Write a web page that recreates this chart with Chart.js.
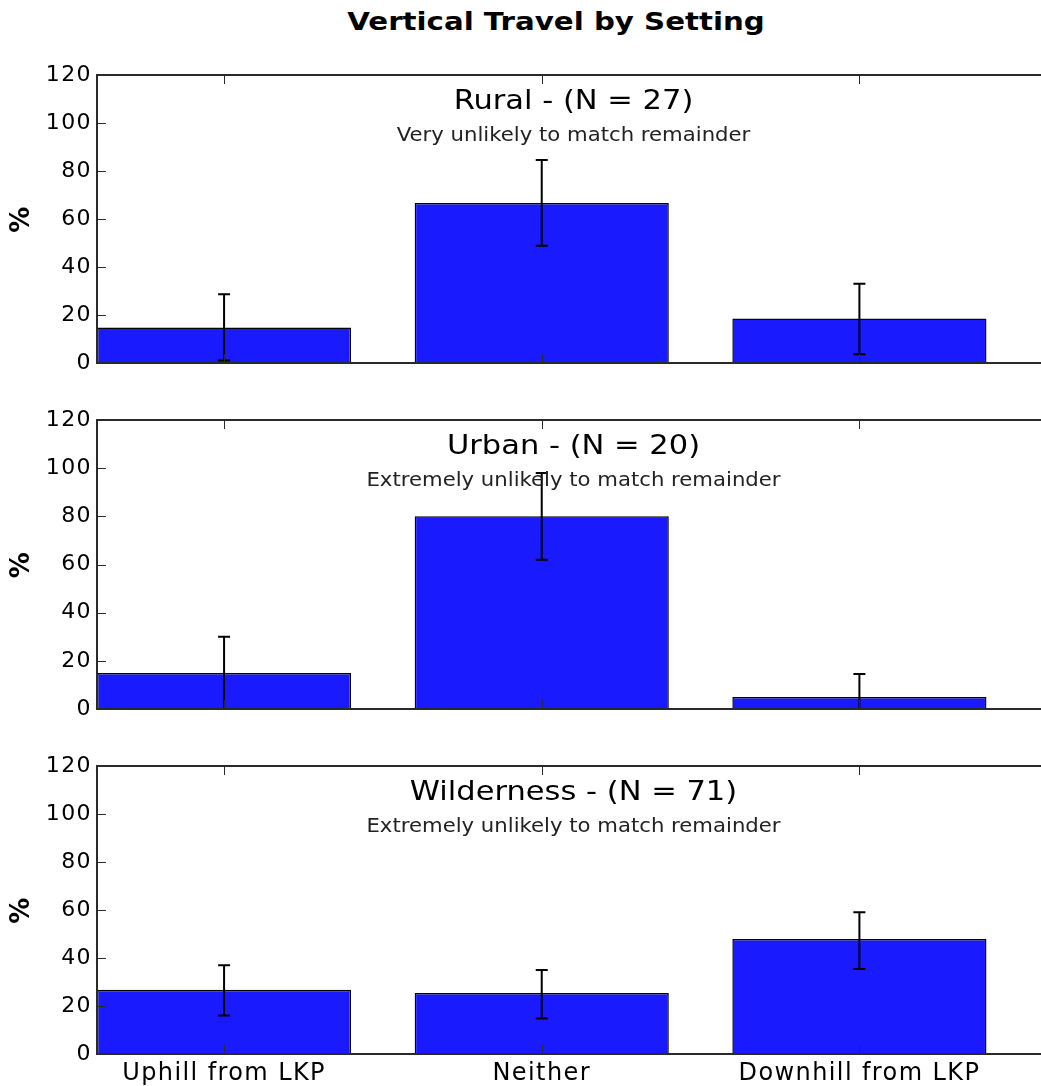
<!DOCTYPE html>
<html>
<head>
<meta charset="utf-8">
<title>Vertical Travel by Setting</title>
<script src="https://cdn.jsdelivr.net/npm/chart.js@4.4.1/dist/chart.umd.min.js"></script>
<style>
  html, body { margin: 0; padding: 0; background: #fff; overflow: hidden; width: 1041px; height: 1086px; }
  #title { position: absolute; left: 0; top: 7px; width: 1112px; text-align: center;
           font: bold 25px "DejaVu Sans"; line-height: 30px; color: #000;
           transform: scaleX(1.17); transform-origin: 556px 50%; }
  .panel { position: absolute; left: 0; }
</style>
</head>
<body>
<div id="title">Vertical Travel by Setting</div>
<canvas id="panel0" class="panel" width="1070" height="338" style="top:50px"></canvas>
<canvas id="panel1" class="panel" width="1070" height="339" style="top:395px"></canvas>
<canvas id="panel2" class="panel" width="1070" height="348" style="top:741px"></canvas>
<script>
// Direction of travel relative to the last known point (LKP)
const categories = ['Uphill from LKP', 'Neither', 'Downhill from LKP'];
const settings = ['Rural', 'Urban', 'Wilderness'];
const sampleSizes = [27, 20, 71];
const verdicts = [
  'Very unlikely to match remainder',
  'Extremely unlikely to match remainder',
  'Extremely unlikely to match remainder'
];

// Percent of cases per direction, with lower / upper error limits
const ruralPct = [14.8, 66.7, 18.5];
const ruralLow = [1.0, 48.9, 3.6];
const ruralHigh = [28.6, 84.6, 33.0];

const urbanPct = [15.0, 80.0, 5.0];
const urbanLow = [0.0, 62.0, 0.0];
const urbanHigh = [30.0, 98.0, 14.5];

const wildernessPct = [26.8, 25.4, 47.9];
const wildernessLow = [16.0, 14.8, 35.4];
const wildernessHigh = [37.0, 35.0, 59.1];

const yTicks = [0, 20, 40, 60, 80, 100, 120];

const FONT = '"DejaVu Sans", "Bitstream Vera Sans", sans-serif';
const BAR_BLUE = '#1a1aff';
const SPINE = '#2a2a2a';

// Draws a centred line of text, widened horizontally by a factor
function wideText(ctx, text, x, y, font, color, stretch) {
  ctx.save();
  ctx.translate(x, y);
  ctx.scale(stretch, 1);
  ctx.font = font;
  ctx.fillStyle = color;
  ctx.textAlign = 'center';
  ctx.textBaseline = 'alphabetic';
  ctx.letterSpacing = '0px';
  ctx.fillText(text, 0, 0);
  ctx.restore();
}

// Error bars, axes frame, inward ticks and the in-panel headings
const framePlugin = {
  id: 'frame',
  beforeDraw(chart) {
    chart.ctx.letterSpacing = '1.4px';
  },
  afterDatasetsDraw(chart, args, opts) {
    const ctx = chart.ctx;
    const xs = chart.scales.x, ys = chart.scales.y;
    ctx.save();
    ctx.strokeStyle = '#000';
    ctx.lineWidth = 2;
    opts.low.forEach((lo, i) => {
      const x = xs.getPixelForValue(i);
      const y1 = ys.getPixelForValue(lo);
      const y2 = ys.getPixelForValue(opts.high[i]);
      ctx.beginPath();
      ctx.moveTo(x, y1); ctx.lineTo(x, y2);
      ctx.moveTo(x - 6, y1); ctx.lineTo(x + 6, y1);
      ctx.moveTo(x - 6, y2); ctx.lineTo(x + 6, y2);
      ctx.stroke();
    });
    ctx.restore();
  },
  afterDraw(chart, args, opts) {
    const ctx = chart.ctx;
    const {left, right, top, bottom} = chart.chartArea;
    const xs = chart.scales.x, ys = chart.scales.y;
    const tick = 9;
    ctx.save();
    ctx.strokeStyle = SPINE;
    ctx.lineWidth = 1;
    ctx.beginPath();
    yTicks.forEach(v => {
      const y = Math.round(ys.getPixelForValue(v)) + 0.5;
      ctx.moveTo(left, y); ctx.lineTo(left + tick, y);
      ctx.moveTo(right, y); ctx.lineTo(right - tick, y);
    });
    categories.forEach((c, i) => {
      const x = Math.round(xs.getPixelForValue(i)) + 0.5;
      ctx.moveTo(x, top); ctx.lineTo(x, top + tick);
      ctx.moveTo(x, bottom); ctx.lineTo(x, bottom - tick);
    });
    ctx.stroke();
    ctx.lineWidth = 2;
    ctx.strokeRect(left, top, right - left, bottom - top);
    ctx.restore();

    const cx = (left + right) / 2;
    wideText(ctx, opts.heading, cx, top + 34, '27px ' + FONT, '#000', 1.13);
    wideText(ctx, opts.note, cx, top + 66, '20px ' + FONT, '#222', 1.06);
  }
};

function buildPanel(idx, pct, low, high) {
  const last = idx === settings.length - 1;
  return new Chart(document.getElementById('panel' + idx), {
    type: 'bar',
    data: {
      datasets: [{
        data: pct.map((v, i) => ({x: i, y: v})),
        backgroundColor: BAR_BLUE,
        borderColor: '#000',
        borderWidth: 1.5,
        categoryPercentage: 1.0,
        barPercentage: 0.8
      }]
    },
    options: {
      responsive: false,
      animation: false,
      devicePixelRatio: 1,
      layout: { padding: { left: 0, right: 20, top: 25, bottom: last ? 0 : 25 } },
      plugins: {
        legend: { display: false },
        tooltip: { enabled: false },
        title: { display: false },
        frame: {
          low: low,
          high: high,
          heading: settings[idx] + ' - (N = ' + sampleSizes[idx] + ')',
          note: verdicts[idx]
        }
      },
      scales: {
        x: {
          type: 'linear',
          min: -0.4,
          max: 2.6,
          offset: false,
          display: last,
          afterBuildTicks: s => { s.ticks = categories.map((c, i) => ({value: i})); },
          ticks: {
            callback: v => categories[v],
            font: { family: FONT, size: 24 },
            color: '#000',
            padding: 5,
            maxRotation: 0,
            autoSkip: false
          },
          grid: { display: false, drawTicks: false },
          border: { display: false },
          afterFit: s => { s.height = last ? 35 : 0; }
        },
        y: {
          min: 0,
          max: 120,
          afterBuildTicks: s => { s.ticks = yTicks.map(v => ({value: v})); },
          ticks: { font: { family: FONT, size: 22 }, color: '#000', padding: 5 },
          grid: { display: false, drawTicks: false },
          border: { display: false },
          title: {
            display: true,
            text: '%',
            font: { family: FONT, size: 26, weight: 'bold' },
            color: '#000',
            padding: { top: 7, bottom: 0 }
          },
          afterFit: s => { s.width = 97; }
        }
      }
    },
    plugins: [framePlugin]
  });
}

buildPanel(0, ruralPct, ruralLow, ruralHigh);
buildPanel(1, urbanPct, urbanLow, urbanHigh);
buildPanel(2, wildernessPct, wildernessLow, wildernessHigh);
</script>
</body>
</html>
